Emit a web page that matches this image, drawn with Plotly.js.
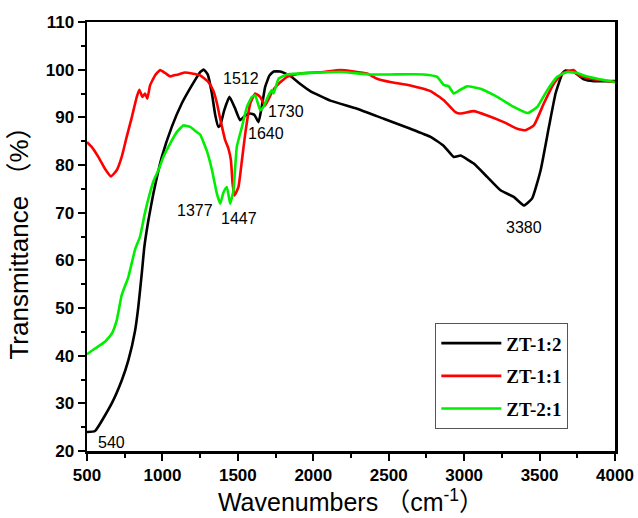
<!DOCTYPE html>
<html>
<head>
<meta charset="utf-8">
<script src="https://cdn.plot.ly/plotly-3.0.1.min.js"></script>
<style>html,body{margin:0;padding:0;background:#fff;}#chart{width:638px;height:518px;}</style>
</head>
<body>
<div id="chart"></div>
<script>
const seriesNames = ["ZT-1:2", "ZT-1:1", "ZT-2:1"];
const seriesColors = ["#000000", "#ff0000", "#00ee00"];

const x_zt12 = [500,553,664,730,774,819,840,863,880,907,940,996,1062,1128,1195,1250,1275,1300,1328,1350,1371,1383,1410,1444,1480,1515,1550,1582,1610,1637,1660,1681,1710,1737,1781,1847,1914,1980,2113,2290,2467,2644,2777,2865,2931,2976,3020,3064,3153,3241,3329,3396,3451,3507,3562,3606,3651,3672,3728,3794,3860,4000];
const y_zt12 = [24,24.2,30,34.8,39,45.3,50.2,57.2,62.8,68.4,74,81.7,88,92.9,96.7,99.5,100,99,95,90.5,88,88.3,91.5,94.3,92,89.4,90.4,90.8,90.5,89,92.5,96.4,98.8,99.6,99.6,98.7,97,95.5,93.5,91.8,89.7,87.6,85.9,84,81.7,82,81.2,80.3,77.5,74.7,73.3,71.5,73,78.9,88,95,99.2,99.8,99.5,98,97.6,97.6];

const x_zt11 = [500,531,575,619,659,697,730,763,797,830,847,867,885,900,918,951,985,1018,1051,1073,1106,1150,1195,1250,1305,1338,1361,1383,1416,1438,1454,1465,1478,1504,1527,1549,1582,1615,1648,1681,1726,1759,1825,1914,2068,2179,2356,2423,2511,2644,2777,2865,2942,2976,3064,3153,3263,3352,3407,3462,3528,3595,3651,3728,3761,3838,4000];
const y_zt11 = [84.8,83.8,81.7,79.2,77.6,78.9,81.7,85.9,90,94.3,95.8,94.3,95,93.9,96.7,98.8,99.9,99.3,98.6,98.8,99,99.4,99.2,98.8,97.4,95.5,93,89.7,85.2,83.4,81,76.1,73.6,75.4,81,86.6,92.9,95,94.3,92.5,95.3,96.7,98.5,99.2,99.5,99.9,99.2,98.1,97.4,96.7,95.5,93.6,91.1,90.8,91.3,90.4,89,87.6,87.3,88.3,92.9,97.1,99.2,99.9,98.8,98.1,97.4];

const x_zt21 = [500,553,619,664,697,730,774,819,852,883,916,943,973,1006,1051,1095,1139,1184,1228,1250,1294,1328,1361,1383,1405,1427,1449,1471,1493,1527,1560,1593,1615,1648,1670,1703,1726,1737,1770,1825,1980,2179,2378,2511,2732,2821,2865,2898,2931,2976,3020,3108,3219,3329,3422,3485,3551,3617,3684,3750,3794,3883,4000];
const y_zt21 = [40.3,41.5,42.9,44.6,47.4,52.7,56.5,62.3,65,69.8,74,76.8,78.9,81.7,84.5,86.9,88.3,88,86.9,86.4,83,79,74,71.9,74.3,75.4,71.9,74.7,83.8,88,92.2,94.3,94.6,91.5,92.2,94.6,95.7,95,98.1,99,99.3,99.5,99,99,99,98.5,96.8,96.5,95,95.8,96.5,96,94.3,92.2,90.9,92.2,95.7,98.5,99.5,99.3,98.8,98.1,97.4];

const peakLabels = ["540","1377","1447","1512","1640","1730","3380"];
const peakLabelX = [664,1215,1509,1522,1685,1821,3397];
const peakLabelY = [21.8,70.4,68.8,98.1,86.6,91.3,66.8];

const xs = [x_zt12, x_zt11, x_zt21];
const ys = [y_zt12, y_zt11, y_zt21];

const traces = seriesNames.map((n, i) => ({
  type: 'scatter', mode: 'lines', name: n, legendgroup: 'g' + i,
  x: xs[i], y: ys[i],
  line: {color: seriesColors[i], width: 2.6, shape: 'spline', smoothing: 0.4}
}));

const tickFont = {family: 'Arial, "Liberation Sans", sans-serif', size: 17, color: '#000', weight: 'bold'};
const titleFont = {family: 'Arial, "Liberation Sans", "Noto Sans CJK SC", sans-serif', size: 25, color: '#000'};

const layout = {
  width: 638, height: 518,
  margin: {l: 87, r: 23, t: 22, b: 67},
  paper_bgcolor: '#ffffff', plot_bgcolor: '#ffffff',
  showlegend: true,
  legend: {
    x: 0.6597, y: 0.2977, xanchor: 'left', yanchor: 'top',
    bgcolor: '#ffffff', bordercolor: '#555555', borderwidth: 1,
    font: {family: '"Liberation Serif", "Times New Roman", serif', size: 19, color: '#000', weight: 'bold'},
    itemwidth: 60, tracegroupgap: 5
  },
  xaxis: {
    range: [500, 4000], dtick: 500, tick0: 500,
    showgrid: false, zeroline: false,
    showline: true, linecolor: '#000', linewidth: 2.5, mirror: true,
    ticks: 'outside', ticklen: 7, tickwidth: 2, tickcolor: '#000',
    minor: {ticks: 'outside', ticklen: 4, tickwidth: 2, dtick: 250, tickcolor: '#000'},
    tickfont: tickFont,
    title: {text: 'Wavenumbers （cm<sup>-1</sup>）', font: titleFont, standoff: 7}
  },
  yaxis: {
    range: [20, 110], dtick: 10, tick0: 20,
    showgrid: false, zeroline: false,
    showline: true, linecolor: '#000', linewidth: 2.5, mirror: true,
    ticks: 'outside', ticklen: 7, tickwidth: 2, tickcolor: '#000',
    minor: {ticks: 'outside', ticklen: 4, tickwidth: 2, dtick: 5, tickcolor: '#000'},
    tickfont: tickFont,
    title: {text: 'Transmittance （%）', font: Object.assign({}, titleFont, {size: 26}), standoff: 10}
  },
  annotations: peakLabels.map((t, i) => ({
    x: peakLabelX[i], y: peakLabelY[i], xref: 'x', yref: 'y',
    text: t, showarrow: false,
    font: {family: 'Arial, "Liberation Sans", sans-serif', size: 16, color: '#000'}
  }))
};

Plotly.newPlot('chart', traces, layout, {staticPlot: true, displayModeBar: false});
</script>
</body>
</html>
